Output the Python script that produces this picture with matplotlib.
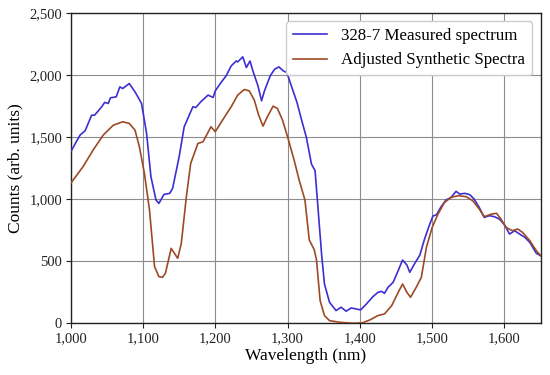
import matplotlib
matplotlib.use("Agg")
import matplotlib.pyplot as plt
from matplotlib.ticker import FuncFormatter

# measured spectrum (blue)
wl_meas = [1000, 1013, 1020, 1029, 1033, 1043, 1047, 1052, 1055, 1063, 1068, 1072, 1081, 1089,
           1098, 1105, 1111, 1118, 1122, 1129, 1137, 1141, 1150, 1157, 1169, 1173, 1180, 1190,
           1197, 1200, 1208, 1215, 1222, 1229, 1231, 1238, 1243, 1248, 1252, 1259, 1264, 1268,
           1276, 1282, 1288, 1294, 1299, 1306, 1313, 1319, 1326, 1333, 1338, 1342, 1347, 1351,
           1358, 1367, 1374, 1381, 1388, 1395, 1401, 1409, 1418, 1425, 1430, 1434, 1439, 1446,
           1453, 1459, 1465, 1469, 1476, 1483, 1489, 1495, 1501, 1506, 1512, 1519, 1526, 1533,
           1538, 1545, 1552, 1558, 1565, 1572, 1579, 1586, 1593, 1600, 1607, 1614, 1621, 1628,
           1635, 1644, 1650]
counts_meas = [1380, 1515, 1550, 1675, 1675, 1743, 1778, 1770, 1815, 1823, 1903, 1890, 1930, 1863,
               1770, 1528, 1180, 992, 965, 1037, 1046, 1086, 1340, 1582, 1743, 1737, 1783, 1837,
               1818, 1871, 1939, 1992, 2072, 2112, 2104, 2145, 2059, 2112, 2032, 1912, 1791, 1871,
               1992, 2045, 2064, 2032, 2019, 1898, 1778, 1644, 1496, 1282, 1228, 933, 558, 316,
               169, 102, 129, 97, 123, 115, 107, 155, 214, 249, 257, 241, 290, 330,
               424, 509, 469, 410, 483, 550, 670, 772, 863, 874, 935, 992, 1013, 1062,
               1040, 1046, 1035, 1000, 933, 852, 866, 858, 839, 793, 718, 745, 718, 692,
               651, 563, 544]

# adjusted synthetic spectra (brown)
wl_syn = [1000, 1017, 1031, 1045, 1059, 1072, 1081, 1089, 1095, 1102, 1109, 1116, 1122, 1127,
          1131, 1139, 1148, 1153, 1160, 1166, 1176, 1183, 1188, 1194, 1200, 1210, 1222, 1231,
          1240, 1247, 1254, 1260, 1266, 1272, 1280, 1286, 1293, 1300, 1309, 1316, 1324, 1330,
          1337, 1340, 1345, 1351, 1358, 1372, 1390, 1403, 1414, 1425, 1434, 1444, 1453, 1459,
          1465, 1470, 1478, 1485, 1492, 1500, 1508, 1517, 1526, 1536, 1547, 1556, 1565, 1572,
          1582, 1589, 1595, 1602, 1611, 1618, 1625, 1635, 1644, 1650]
counts_syn = [1126, 1260, 1394, 1515, 1595, 1622, 1609, 1555, 1421, 1206, 912, 456, 375, 370,
              402, 603, 523, 643, 1019, 1287, 1448, 1461, 1515, 1582, 1542, 1635, 1743, 1837,
              1882, 1871, 1796, 1675, 1587, 1662, 1748, 1729, 1635, 1501, 1314, 1153, 992, 670,
              590, 509, 182, 62, 21, 8, 0, 3, 27, 62, 75, 142, 249, 316,
              249, 209, 290, 370, 611, 772, 879, 973, 1013, 1027, 1019, 987, 920, 858,
              879, 885, 839, 772, 745, 759, 732, 665, 584, 544]

plt.rcParams['font.family'] = ['Liberation Serif', 'DejaVu Serif']

fig = plt.figure(figsize=(5.5, 3.75), dpi=100)
ax = fig.add_axes([0.1285, 0.138, 0.8545, 0.828])

ax.plot(wl_meas, counts_meas, color='#3b2fd3', lw=1.2, label='328-7 Measured spectrum', zorder=3)
ax.plot(wl_syn, counts_syn, color='#9c4a25', lw=1.2, label='Adjusted Synthetic Spectra', zorder=3)

ax.set_xlim(1000, 1650)
ax.set_ylim(0, 2500)
ax.set_xticks(range(1000, 1650, 100))
ax.set_yticks(range(0, 2501, 500))
comma = FuncFormatter(lambda v, p: f"{int(v):,}")
ax.xaxis.set_major_formatter(comma)
ax.yaxis.set_major_formatter(comma)
ax.tick_params(labelsize=10.5, length=3.6, width=0.8, colors='#222222', pad=2.5)
ax.grid(color='#8c8c8c', lw=0.8, zorder=0)
for s in ax.spines.values():
    s.set_color('#222222')
    s.set_linewidth(1.0)

ax.set_xlabel('Wavelength (nm)', fontsize=12.5, labelpad=2)
ax.set_ylabel('Counts (arb. units)', fontsize=12.5, labelpad=4)
ax.legend(loc='upper right', fontsize=12.2, frameon=True, edgecolor='#cccccc',
          framealpha=1.0, handlelength=2.0, handletextpad=0.85, borderaxespad=0.5)

fig.savefig('out.png', dpi=100)
